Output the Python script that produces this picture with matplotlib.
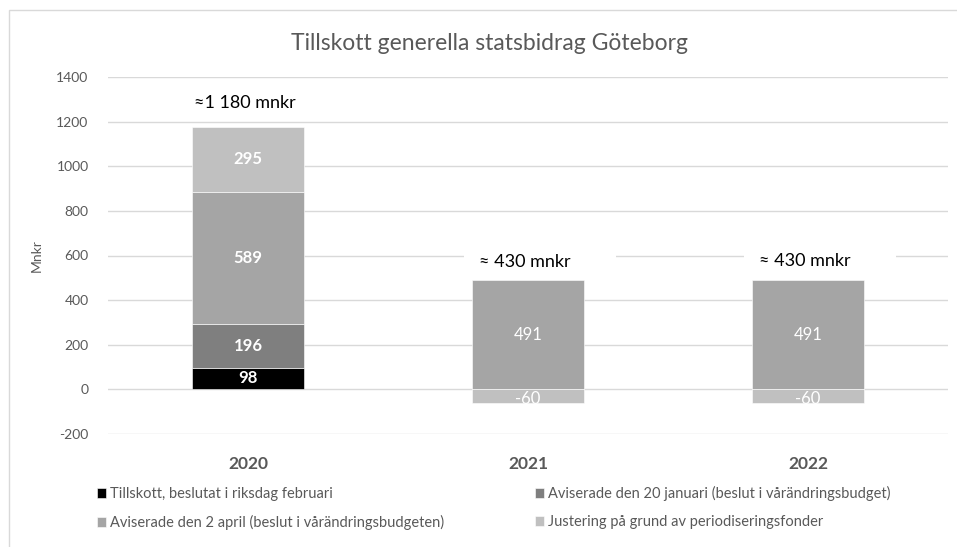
import matplotlib.pyplot as plt
from matplotlib.patches import Rectangle
import numpy as np

plt.rcParams['font.family'] = ['Lato', 'DejaVu Sans']
plt.rcParams['axes.unicode_minus'] = False

years = ['2020', '2021', '2022']
series_names = [
    'Tillskott, beslutat i riksdag februari',
    'Aviserade den 20 januari (beslut i vårändringsbudget)',
    'Aviserade den 2 april (beslut i vårändringsbudgeten)',
    'Justering på grund av periodiseringsfonder',
]
tillskott = [98, 0, 0]
januari = [196, 0, 0]
april = [589, 491, 491]
justering = [295, -60, -60]
totals = ['≈1 180 mnkr', '≈ 430 mnkr', '≈ 430 mnkr']
total_y = [1285, 571, 575]
yticks = [-200, 0, 200, 400, 600, 800, 1000, 1200, 1400]

colors = ['#000000', '#7f7f7f', '#a5a5a5', '#c0c0c0']
text_grey = '#595959'

fig = plt.figure(figsize=(9.57, 5.47), dpi=100)
fig.patches.append(Rectangle((9 / 957, -0.05), 1.0, 1 - 10 / 547 + 0.05,
                             transform=fig.transFigure, fill=False,
                             edgecolor='#d9d9d9', lw=1))
ax = fig.add_axes([108 / 957, 1 - 434 / 547, 840 / 957, 357 / 547])

x = np.arange(len(years))
width = 0.4
pos_base = np.zeros(len(years))
neg_base = np.zeros(len(years))
for name, vals, col in zip(series_names, [tillskott, januari, april, justering], colors):
    vals = np.array(vals, dtype=float)
    bottoms = np.where(vals >= 0, pos_base, neg_base)
    bars = ax.bar(x, vals, width, bottom=bottoms, color=col, label=name,
                  edgecolor='white', linewidth=0.4, zorder=3)
    for i, (b, v) in enumerate(zip(bars, vals)):
        if v == 0:
            continue
        t = ax.text(x[i], bottoms[i] + v / 2, f'{int(v)}', ha='center', va='center',
                    color='white', fontsize=12,
                    fontweight='bold' if i == 0 else 'normal', zorder=4)
        if v < 0:
            # label sits low and gets cut by the bar edge, as in the original
            t.set_y(bottoms[i] + v / 2 - 14)
            t.set_clip_path(b)
    pos_base = np.where(vals >= 0, pos_base + vals, pos_base)
    neg_base = np.where(vals < 0, neg_base + vals, neg_base)

for i, (lab, ty) in enumerate(zip(totals, total_y)):
    ax.add_patch(Rectangle((x[i] - 0.23, ty - 70), 0.545, 150, facecolor='white',
                           edgecolor='none', zorder=2))
    ax.text(x[i] - 0.01, ty, lab, ha='center', va='center', fontsize=13,
            color='black', zorder=4)

ax.set_xlim(-0.5, 2.5)
ax.set_ylim(-200, 1400)
ax.set_yticks(yticks)
ax.set_xticks(x)
ax.set_xticklabels(years, fontsize=12.5, fontweight='bold', color=text_grey)
ax.tick_params(axis='y', labelsize=10, colors=text_grey, length=0, pad=14)
ax.tick_params(axis='x', length=0, pad=16)
ax.grid(axis='y', color='#d9d9d9', lw=1, zorder=0)
ax.set_axisbelow(True)
for s in ax.spines.values():
    s.set_visible(False)
ax.set_ylabel('Mnkr', fontsize=10, color=text_grey, labelpad=10)

fig.text(490 / 957, 1 - 43 / 547, 'Tillskott generella statsbidrag Göteborg',
         ha='center', va='center', fontsize=16.5, color=text_grey)

handles, labels = ax.get_legend_handles_labels()
order = [0, 2, 1, 3]
fig.legend([handles[i] for i in order], [labels[i] for i in order],
           loc='upper left', bbox_to_anchor=(84 / 957, 1 - 473 / 547), ncol=2,
           frameon=False, fontsize=10.5, labelcolor=text_grey, handlelength=0.6,
           handleheight=0.6, handletextpad=0.3, labelspacing=0.95, columnspacing=6.2)

fig.savefig('out.png', dpi=100)
